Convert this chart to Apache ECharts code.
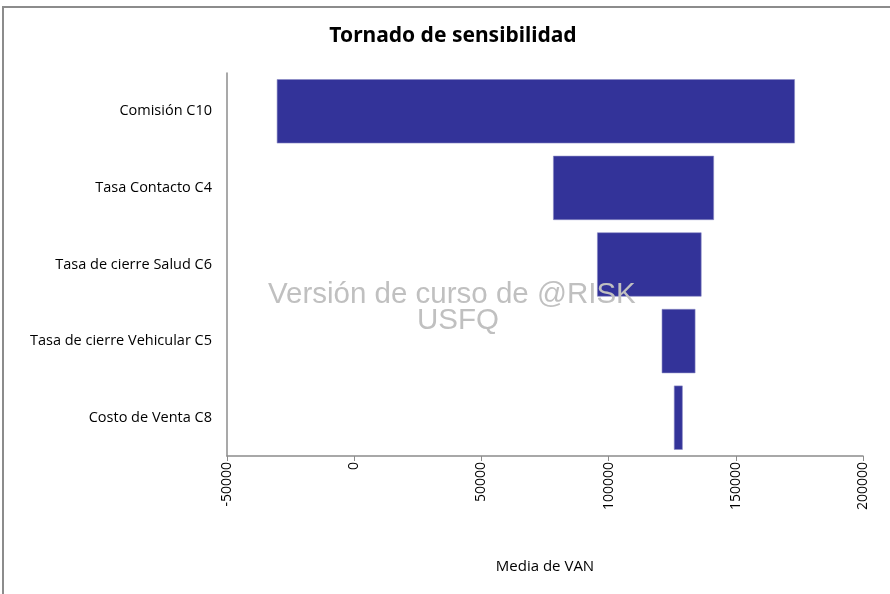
<!DOCTYPE html>
<html>
<head>
<meta charset="utf-8">
<script src="https://cdn.jsdelivr.net/npm/echarts@6/dist/echarts.min.js"></script>
<style>
  html, body { margin: 0; padding: 0; background: #fff; }
  #chart { width: 890px; height: 594px; }
</style>
</head>
<body>
<div id="chart"></div>
<script>
// inputs, top to bottom
const categories = [
  'Comisión C10',
  'Tasa Contacto C4',
  'Tasa de cierre Salud C6',
  'Tasa de cierre Vehicular C5',
  'Costo de Venta C8'
]
// mean NPV at the low / high end of each input
const lowValues = [-30300, 78300, 95600, 121000, 125800]
const highValues = [173100, 141300, 136400, 134000, 129000]

const chart = echarts.init(document.getElementById('chart'))

chart.setOption({
  animation: false,
  title: {
    text: 'Tornado de sensibilidad',
    left: 448,
    top: 21,
    textAlign: 'center',
    textStyle: {
      fontFamily: 'Noto Sans',
      fontWeight: 'bold',
      fontSize: 21,
      color: '#000'
    }
  },
  grid: {
    left: 227,
    right: 27,
    top: 73,
    bottom: 138
  },
  xAxis: {
    type: 'value',
    min: -50000,
    max: 200000,
    interval: 50000,
    name: 'Media de VAN',
    nameLocation: 'middle',
    nameGap: 103,
    nameTextStyle: {
      fontFamily: 'Open Sans',
      fontSize: 15,
      color: '#000'
    },
    axisLine: { show: true, lineStyle: { color: '#8c8c8c', width: 1.5 } },
    axisTick: { show: true, length: 5, lineStyle: { color: '#8c8c8c' } },
    splitLine: { show: false },
    axisLabel: {
      rotate: 90,
      margin: 6,
      fontFamily: 'Open Sans',
      fontSize: 14,
      color: '#000',
      formatter: v => String(v)
    }
  },
  yAxis: {
    type: 'category',
    data: categories,
    inverse: true,
    axisLine: { show: true, onZero: false, lineStyle: { color: '#8c8c8c', width: 1.5 } },
    axisTick: { show: false },
    axisLabel: {
      margin: 15,
      fontFamily: 'Open Sans',
      fontSize: 14.5,
      color: '#000'
    }
  },
  series: [{
    type: 'custom',
    renderItem(params, api) {
      const cat = api.value(0)
      const start = api.coord([api.value(1), cat])
      const end = api.coord([api.value(2), cat])
      const band = api.size([0, 1])[1]
      const h = band * 0.83
      return {
        type: 'rect',
        shape: {
          x: start[0],
          y: start[1] - h / 2,
          width: end[0] - start[0],
          height: h
        },
        style: { fill: '#333399', stroke: '#8a8ac4', lineWidth: 0.6 }
      }
    },
    encode: { y: 0, x: [1, 2] },
    data: categories.map((c, i) => [i, lowValues[i], highValues[i]])
  }],
  graphic: [
    {
      type: 'rect',
      z: 0,
      shape: { x: 3, y: 7, width: 900, height: 600 },
      style: { fill: 'none', stroke: '#8c8c8c', lineWidth: 2 }
    },
    {
      type: 'text',
      z: 100,
      left: 268,
      top: 280,
      style: {
        text: 'Versión de curso de @RISK',
        font: '29.5px "Liberation Sans"',
        fill: '#c0c0c0'
      }
    },
    {
      type: 'text',
      z: 100,
      left: 417,
      top: 306,
      style: {
        text: 'USFQ',
        font: '29.5px "Liberation Sans"',
        fill: '#c0c0c0'
      }
    }
  ]
})
</script>
</body>
</html>
